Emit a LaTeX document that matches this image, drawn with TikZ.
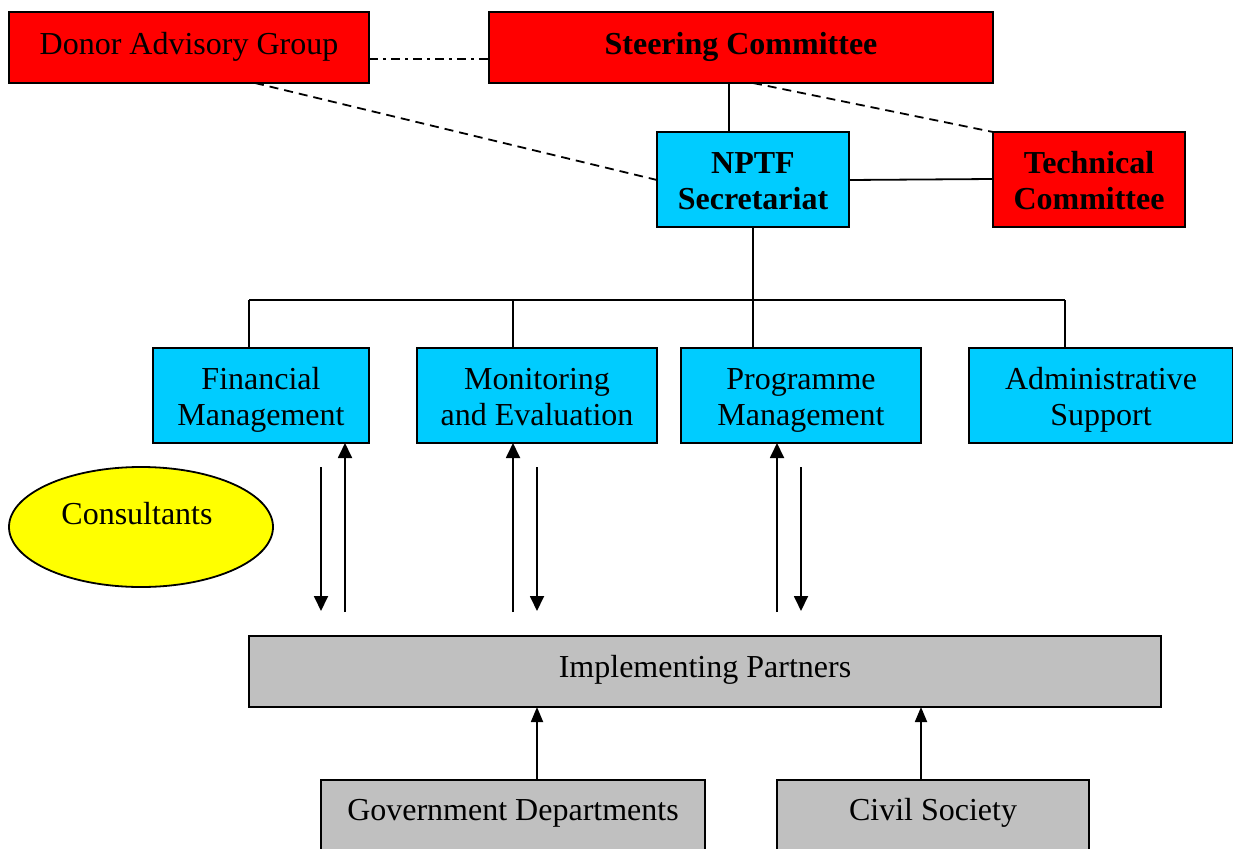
\documentclass[tikz,border=0pt]{standalone}
\usepackage{fontspec}
\setmainfont{Liberation Serif}
\usetikzlibrary{arrows.meta,shapes.geometric,calc}

\definecolor{orgred}{RGB}{255,0,0}
\definecolor{orgcyan}{RGB}{0,204,255}
\definecolor{orgyellow}{RGB}{255,255,0}
\definecolor{orggray}{RGB}{192,192,192}

\tikzset{
  unitbox/.style={draw=black, line width=1.8pt, anchor=north west, inner sep=0pt, outer sep=0pt},
  redbox/.style={unitbox, fill=orgred},
  cyanbox/.style={unitbox, fill=orgcyan},
  graybox/.style={unitbox, fill=orggray},
  txt/.style={anchor=north, inner sep=0pt, align=center, font=\fontsize{32}{36}\selectfont},
  link/.style={line width=1.8pt},
  dashlink/.style={link, dash pattern=on 9pt off 6pt},
  dashdotlink/.style={link, dash pattern=on 9pt off 5pt on 3pt off 5pt},
  flow/.style={link, -{Triangle[length=15pt,width=14pt]}},
  smallflow/.style={link, -{Triangle[length=15pt,width=12pt]}},
}

\newcommand{\firstline}{\rule{0pt}{25pt}}

\begin{document}
\begin{tikzpicture}[x=1pt,y=-1pt]
\useasboundingbox (0,0) rectangle (1233,848);
\clip (0,0) rectangle (1233,848);

% governance boxes
\node[redbox, minimum width=360pt, minimum height=71pt] (dag) at (9,12) {};
\node[txt] (dag-t) at ($(dag.north)+(0,17)$) {\firstline Donor Advisory Group};

\node[redbox, minimum width=504pt, minimum height=71pt] (stc) at (489,12) {};
\node[txt] (stc-t) at ($(stc.north)+(0,17)$) {\firstline\bfseries Steering Committee};

\node[cyanbox, minimum width=192pt, minimum height=95pt] (sec) at (657,132) {};
\node[txt, font=\fontsize{32}{36}\selectfont\bfseries] (sec-t) at ($(sec.north)+(0,16)$) {\firstline NPTF\\Secretariat};

\node[redbox, minimum width=192pt, minimum height=95pt] (tec) at (993,132) {};
\node[txt, font=\fontsize{32}{36}\selectfont\bfseries] (tec-t) at ($(tec.north)+(0,16)$) {\firstline Technical\\Committee};

% units
\node[cyanbox, minimum width=216pt, minimum height=95pt] (fm) at (153,348) {};
\node[txt] (fm-t) at ($(fm.north)+(0,16)$) {\firstline Financial\\Management};

\node[cyanbox, minimum width=240pt, minimum height=95pt] (me) at (417,348) {};
\node[txt] (me-t) at ($(me.north)+(0,16)$) {\firstline Monitoring\\and Evaluation};

\node[cyanbox, minimum width=240pt, minimum height=95pt] (pm) at (681,348) {};
\node[txt] (pm-t) at ($(pm.north)+(0,16)$) {\firstline Programme\\Management};

\node[cyanbox, minimum width=264pt, minimum height=95pt] (adm) at (969,348) {};
\node[txt] (adm-t) at ($(adm.north)+(0,16)$) {\firstline Administrative\\Support};

% consultants
\node[ellipse, draw=black, line width=1.8pt, fill=orgyellow, minimum width=264pt, minimum height=120pt, inner sep=0pt] (con) at (141,527) {};
\node[txt] (con-t) at (137,499) {\firstline Consultants};

% implementing side
\node[graybox, minimum width=912pt, minimum height=71pt] (imp) at (249,636) {};
\node[txt] (imp-t) at ($(imp.north)+(0,16)$) {\firstline Implementing Partners};

\node[graybox, minimum width=384pt, minimum height=90pt] (gov) at (321,780) {};
\node[txt] (gov-t) at ($(gov.north)+(0,15)$) {\firstline Government Departments};

\node[graybox, minimum width=312pt, minimum height=90pt] (civ) at (777,780) {};
\node[txt] (civ-t) at ($(civ.north)+(0,15)$) {\firstline Civil Society};

% governance links
\draw[dashdotlink] ($(dag.north east)+(0,47)$) -- ($(stc.north west)+(0,47)$);
\draw[dashlink] ($(dag.south west)+(246,0)$) -- ($(sec.north west)+(0,48)$);
\draw[dashlink] ($(stc.south west)+(264,0)$) -- (tec.north west);
\draw[link] ($(stc.south west)+(240,0)$) -- ($(sec.north west)+(72,0)$);
\draw[link] ($(sec.north east)+(0,48)$) -- ($(tec.north west)+(0,47)$);

% tree from the secretariat to the units
\coordinate (busL) at (249,300);
\coordinate (busR) at (1065,300);
\coordinate (busM) at (513,300);
\draw[link] (sec.south) -- (sec.south |- busL);
\draw[link] (busL) -- (busR);
\draw[link] (busL) -- (busL |- fm.north);
\draw[link] (busM) -- (busM |- me.north);
\draw[link] (sec.south |- busL) -- (sec.south |- pm.north);
\draw[link] (busR) -- (busR |- adm.north);

% flows between units and partners
\coordinate (fmA) at (321,467);
\coordinate (fmB) at (321,611);
\coordinate (fmC) at (345,612);
\draw[flow] (fmA) -- (fmB);
\draw[flow] (fmC) -- (fmC |- fm.south);

\coordinate (meA) at (513,612);
\coordinate (meB) at (537,467);
\coordinate (meC) at (537,611);
\draw[flow] (meA) -- (meA |- me.south);
\draw[flow] (meB) -- (meC);

\coordinate (pmA) at (777,612);
\coordinate (pmB) at (801,467);
\coordinate (pmC) at (801,611);
\draw[flow] (pmA) -- (pmA |- pm.south);
\draw[flow] (pmB) -- (pmC);

% partner sources
\draw[smallflow] ($(gov.north west)+(216,0)$) -- ($(imp.south west)+(288,0)$);
\draw[smallflow] ($(civ.north west)+(144,0)$) -- ($(imp.south west)+(672,0)$);
\end{tikzpicture}
\end{document}
